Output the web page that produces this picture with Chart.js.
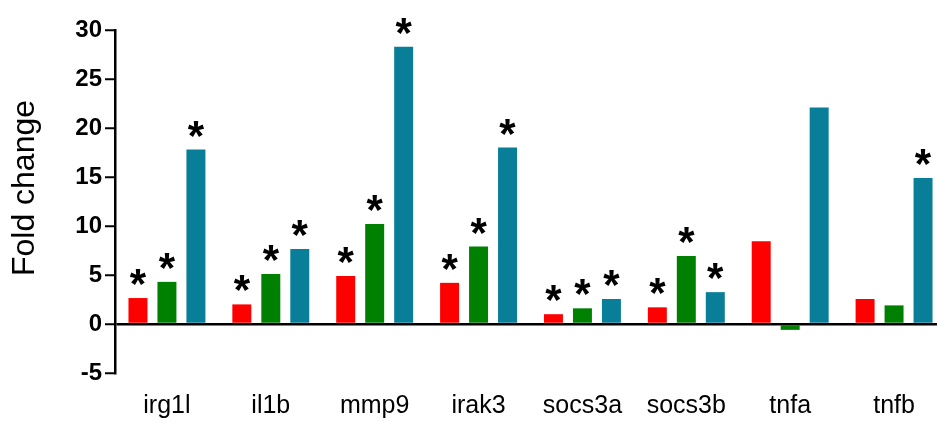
<!DOCTYPE html>
<html>
<head>
<meta charset="utf-8">
<script src="https://cdn.jsdelivr.net/npm/chart.js@4"></script>
<style>
  html, body { margin: 0; padding: 0; background: #fff; overflow: hidden; }
  #wrap { width: 960px; height: 423px; }
</style>
</head>
<body>
<div id="wrap"><canvas id="foldChart"></canvas></div>
<script>
// Genes en el eje X
const genes = ['irg1l', 'il1b', 'mmp9', 'irak3', 'socs3a', 'socs3b', 'tnfa', 'tnfb'];

// Valores de fold change por grupo
const redValues   = [2.65, 2.0, 4.9, 4.2, 1.0, 1.7, 8.45, 2.55];
const greenValues = [4.3, 5.1, 10.2, 7.9, 1.6, 6.95, -0.6, 1.9];
const blueValues  = [17.8, 7.65, 28.3, 18.0, 2.55, 3.25, 22.1, 14.9];

// Significancia (*) por barra
const redSig   = [1, 1, 1, 1, 1, 1, 0, 0];
const greenSig = [1, 1, 1, 1, 1, 1, 0, 0];
const blueSig  = [1, 1, 1, 1, 1, 1, 0, 1];

// Ticks del eje Y
const yTicks = [-5, 0, 5, 10, 15, 20, 25, 30];

const FONT = 'Arial, "Liberation Sans", sans-serif';

// Plugin: asteriscos sobre las barras y título del eje Y
const markersPlugin = {
    id: 'markers',
    afterDatasetsDraw(chart) {
        const ctx = chart.ctx;
        const sigs = [redSig, greenSig, blueSig];
        ctx.save();
        ctx.fillStyle = '#000';
        ctx.font = 'bold 42px ' + FONT;
        ctx.textAlign = 'center';
        ctx.textBaseline = 'alphabetic';
        const m = ctx.measureText('*');
        chart.data.datasets.forEach((ds, i) => {
            const meta = chart.getDatasetMeta(i);
            meta.data.forEach((bar, j) => {
                if (!sigs[i][j]) return;
                const top = Math.min(bar.y, bar.base);
                const baseline = top - 13 - m.actualBoundingBoxDescent;
                ctx.fillText('*', bar.x, baseline);
            });
        });

        // Título del eje Y
        ctx.font = '32px ' + FONT;
        ctx.textBaseline = 'middle';
        ctx.translate(25, 188);
        ctx.rotate(-Math.PI / 2);
        ctx.fillText('Fold change', 0, 0);
        ctx.restore();
    }
};

const ctx = document.getElementById('foldChart').getContext('2d');
const foldChart = new Chart(ctx, {
    type: 'bar',
    data: {
        labels: genes,
        datasets: [
            { label: 'Grupo 1', data: redValues, backgroundColor: '#ff0000' },
            { label: 'Grupo 2', data: greenValues, backgroundColor: '#008000' },
            { label: 'Grupo 3', data: blueValues, backgroundColor: '#087e98' }
        ]
    },
    options: {
        responsive: true,
        maintainAspectRatio: false,
        animation: false,
        categoryPercentage: 0.837,
        barPercentage: 0.655,
        layout: { padding: { top: 30, right: 14, bottom: 0, left: 0 } },
        plugins: {
            legend: { display: false },
            tooltip: { enabled: false }
        },
        scales: {
            x: {
                grid: { display: false, drawTicks: false },
                border: { display: false },
                ticks: {
                    color: '#000',
                    padding: 18,
                    font: { family: FONT, size: 25 },
                    maxRotation: 0,
                    autoSkip: false
                },
                afterFit(scale) { scale.height = 50; }
            },
            y: {
                min: -5,
                max: 30,
                afterBuildTicks(scale) {
                    scale.ticks = yTicks.map(v => ({ value: v }));
                },
                grid: {
                    color: c => (c.tick && c.tick.value === 0) ? '#000' : 'rgba(0,0,0,0)',
                    lineWidth: 2.5,
                    tickColor: '#000',
                    tickWidth: 2,
                    tickLength: 10
                },
                border: { display: true, color: '#000', width: 2.5 },
                ticks: {
                    color: '#000',
                    padding: 3,
                    font: { family: FONT, size: 24, weight: 'bold' }
                },
                afterFit(scale) { scale.width = 115; }
            }
        }
    },
    plugins: [markersPlugin]
});
</script>
</body>
</html>
